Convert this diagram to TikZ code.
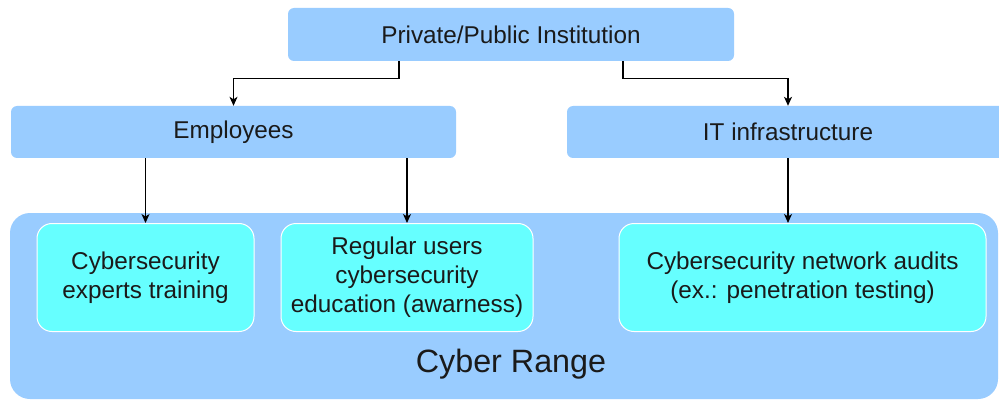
\documentclass[tikz,border=0pt]{standalone}
\usepackage{fontspec}
\setmainfont{Liberation Sans}
\usetikzlibrary{arrows.meta}
\definecolor{lblue}{HTML}{99CCFF}
\definecolor{lcyan}{HTML}{66FFFF}
\definecolor{txt}{HTML}{1A1A1A}
\tikzset{
  topbox/.style={fill=lblue, draw=none, rounded corners=6pt, inner sep=0pt, text=txt,
    font=\fontsize{24.3pt}{28pt}\selectfont},
  rangebox/.style={fill=lblue, draw=none, rounded corners=20pt, inner sep=0pt},
  cybox/.style={fill=lcyan, draw=white, line width=1pt, rounded corners=15pt, inner sep=0pt,
    text=txt, align=center, font=\fontsize{24.3pt}{29pt}\selectfont},
  arr/.style={-{Stealth[length=9pt,width=8pt,inset=2.5pt]}, line width=1.1pt, black},
}
\begin{document}
\begin{tikzpicture}[x=1pt,y=1pt]
\clip (0,0) rectangle (999,-401);
\fill[white] (0,0) rectangle (999,-401);
\node[topbox, minimum width=446pt, minimum height=53pt] (top) at (511,-34.5) {Private/Public Institution};
\node[topbox, minimum width=445pt, minimum height=52pt] (emp) at (233.5,-132) {Employees};
\node[topbox, minimum width=442pt, minimum height=52pt] (it) at (788,-132) {IT infrastructure};
\node[rangebox, minimum width=988pt, minimum height=186pt] (range) at (504,-306) {};
\node[text=txt, font=\fontsize{32.3pt}{36pt}\selectfont] (rlabel) at (511,-364) {Cyber Range};
\node[cybox, minimum width=217pt, minimum height=108pt] (b1) at (145.5,-277.5) {Cybersecurity\\experts training};
\node[cybox, minimum width=252pt, minimum height=108pt] (b2) at (407,-277.5) {Regular users\\cybersecurity\\education (awarness)};
\node[cybox, minimum width=367pt, minimum height=108pt] (b3) at (802.5,-277.5) {Cybersecurity network audits\\(ex.: penetration testing)};
\draw[arr] ([xshift=-112pt]top.south) -- ++(0,-17) -| (emp.north);
\draw[arr] ([xshift=112pt]top.south) -- ++(0,-17) -| (it.north);
\draw[arr] (b1.north |- emp.south) -- (b1.north);
\draw[arr] (b2.north |- emp.south) -- (b2.north);
\draw[arr] (it.south) -- (it.south |- b3.north);
\end{tikzpicture}
\end{document}
